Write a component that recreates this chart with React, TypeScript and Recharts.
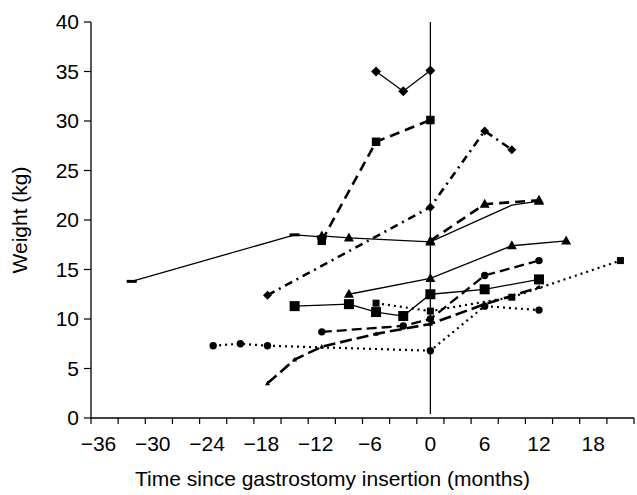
import React from 'react';
import { LineChart, Line, XAxis, YAxis, ReferenceLine, Label } from 'recharts';

const FONT = '"Liberation Sans", Arial, Helvetica, sans-serif';
const FS = 21;

// axis ticks
const xTickMarks = [-37.5, -34.5, -31.5, -28.5, -25.5, -22.5, -19.5, -16.5, -13.5, -10.5, -7.5, -4.5, -1.5, 1.5, 4.5, 7.5, 10.5, 13.5, 16.5, 19.5, 22.5];
const xTickLabels = [-36, -30, -24, -18, -12, -6, 0, 6, 12, 18];
const yTicks = [0, 5, 10, 15, 20, 25, 30, 35, 40];

// series (months since insertion, weight kg)
const aMonths = [-6, -3, 0];
const aWeight = [35, 33, 35.1];
const bMonths = [-12, -6, 0];
const bWeight = [17.9, 27.9, 30.1];
const cMonths = [-33, -15, -12];
const cWeight = [13.8, 18.5, 18.3];
const dMonths = [-12, -9, 0, 9, 12];
const dWeight = [18.4, 18.2, 17.8, 21.5, 21.9];
const dUnmarked = [9];
const eMonths = [0, 6, 12];
const eWeight = [17.9, 21.6, 22.0];
const fMonths = [-18, 0, 6, 9];
const fWeight = [12.4, 21.3, 29.0, 27.1];
const gMonths = [-9, 0, 9, 15];
const gWeight = [12.5, 14.1, 17.4, 17.9];
const hMonths = [-15, -9, -6, -3, 0, 6, 12];
const hWeight = [11.3, 11.5, 10.7, 10.3, 12.5, 13.0, 14.0];
const iMonths = [-6, 0, 9, 21];
const iWeight = [11.6, 10.8, 12.2, 15.9];
const jMonths = [-12, -3, 0, 6, 12];
const jWeight = [8.7, 9.3, 10.0, 14.4, 15.9];
const kMonths = [-18, -15, -12, -6, 0, 6, 12];
const kWeight = [3.5, 5.9, 7.2, 8.5, 9.5, 11.5, 13.2];
const lMonths = [-24, -21, -18, 0, 6, 12];
const lWeight = [7.3, 7.5, 7.3, 6.8, 11.3, 10.9];

const toData = (m: number[], w: number[]) => m.map((x, i) => ({ x, y: w[i] }));

const diamond = (r: number) => (p: any) => {
  if (p.cx == null || p.cy == null) return <g key={p.index} />;
  const { cx, cy } = p;
  return <path key={p.index} d={`M${cx},${cy - r}L${cx + r},${cy}L${cx},${cy + r}L${cx - r},${cy}Z`} fill="#000" />;
};
const square = (s: number) => (p: any) => {
  if (p.cx == null || p.cy == null) return <g key={p.index} />;
  return <rect key={p.index} x={p.cx - s / 2} y={p.cy - s / 2} width={s} height={s} fill="#000" />;
};
const triangle = (s: number, skip: number[] = []) => (p: any) => {
  if (p.cx == null || p.cy == null || (p.payload && skip.includes(p.payload.x))) return <g key={p.index} />;
  const { cx, cy } = p;
  const h = s * 0.9;
  return <path key={p.index} d={`M${cx},${cy - h * 0.6}L${cx + s / 2},${cy + h * 0.4}L${cx - s / 2},${cy + h * 0.4}Z`} fill="#000" />;
};
const circle = (r: number) => (p: any) => {
  if (p.cx == null || p.cy == null) return <g key={p.index} />;
  return <circle key={p.index} cx={p.cx} cy={p.cy} r={r} fill="#000" />;
};
const dash = (w: number, h: number) => (p: any) => {
  if (p.cx == null || p.cy == null) return <g key={p.index} />;
  return <rect key={p.index} x={p.cx - w / 2} y={p.cy - h / 2} width={w} height={h} fill="#000" />;
};

const XTick = (props: any) => {
  const { x, y, payload } = props;
  const v = payload.value;
  if (xTickLabels.includes(v)) {
    const digits = String(Math.abs(v));
    const w = digits.length * 0.556 * FS;
    return (
      <g>
        <text x={x} y={y + 33} textAnchor="middle" fontSize={FS} fontFamily={FONT} fill="#000">{digits}</text>
        {v < 0 && (
          <text x={x - w / 2} y={y + 33} textAnchor="end" fontSize={FS} fontFamily={FONT} fill="#000">{'\u2212'}</text>
        )}
      </g>
    );
  }
  return <line x1={x} x2={x} y1={y} y2={y + 6} stroke="#000" strokeWidth={1.2} />;
};

const thin = 1.3;
const thick = 2.6;

export default function App() {
  const xTicks = [...xTickMarks, ...xTickLabels].sort((a, b) => a - b);
  return (
    <div style={{ position: 'absolute', left: 0, top: 0, background: '#fff' }}>
      <LineChart width={637} height={495} margin={{ top: 22, right: 3, left: 0, bottom: 0 }}>
        <XAxis
          dataKey="x"
          type="number"
          domain={[-37.5, 22.5]}
          ticks={xTicks}
          interval={0}
          tickSize={0}
          tickMargin={0}
          tickLine={false}
          tick={XTick}
          axisLine={{ stroke: '#000', strokeWidth: 1.3 }}
          height={77}
          allowDataOverflow
        >
          <Label
            value="Time since gastrostomy insertion (months)"
            position="insideBottom"
            offset={9}
            dx={-30}
            style={{ fontSize: FS, fontFamily: FONT, fill: '#000' }}
          />
        </XAxis>
        <YAxis
          type="number"
          domain={[0, 40]}
          ticks={yTicks}
          interval={0}
          tickSize={7}
          tickMargin={5}
          width={91}
          tick={{ fontSize: FS, fontFamily: FONT, fill: '#000' }}
          tickLine={{ stroke: '#000', strokeWidth: 1.2 }}
          axisLine={{ stroke: '#000', strokeWidth: 1.3 }}
        >
          <Label
            value="Weight (kg)"
            angle={-90}
            position="insideLeft"
            offset={20}
            style={{ fontSize: FS, fontFamily: FONT, fill: '#000', textAnchor: 'middle' }}
          />
        </YAxis>
        <ReferenceLine segment={[{ x: 0, y: 0.4 }, { x: 0, y: 40 }]} stroke="#000" strokeWidth={1.3} />

        <Line data={toData(lMonths, lWeight)} dataKey="y" type="linear" stroke="#000" strokeWidth={2.2} strokeDasharray="2 4" dot={circle(3.7)} activeDot={false} isAnimationActive={false} />
        <Line data={toData(iMonths, iWeight)} dataKey="y" type="linear" stroke="#000" strokeWidth={2.2} strokeDasharray="2 4" dot={square(7)} activeDot={false} isAnimationActive={false} />
        <Line data={toData(kMonths, kWeight)} dataKey="y" type="linear" stroke="#000" strokeWidth={thick} strokeDasharray="12 5" dot={triangle(5)} activeDot={false} isAnimationActive={false} />
        <Line data={toData(jMonths, jWeight)} dataKey="y" type="linear" stroke="#000" strokeWidth={2.3} strokeDasharray="10 5" dot={circle(3.7)} activeDot={false} isAnimationActive={false} />
        <Line data={toData(hMonths, hWeight)} dataKey="y" type="linear" stroke="#000" strokeWidth={thin} dot={square(10)} activeDot={false} isAnimationActive={false} />
        <Line data={toData(gMonths, gWeight)} dataKey="y" type="linear" stroke="#000" strokeWidth={thin} dot={triangle(10)} activeDot={false} isAnimationActive={false} />
        <Line data={toData(fMonths, fWeight)} dataKey="y" type="linear" stroke="#000" strokeWidth={thick} strokeDasharray="8 5 2 5" dot={diamond(4.5)} activeDot={false} isAnimationActive={false} />
        <Line data={toData(eMonths, eWeight)} dataKey="y" type="linear" stroke="#000" strokeWidth={thick} strokeDasharray="10 6" dot={triangle(10)} activeDot={false} isAnimationActive={false} />
        <Line data={toData(cMonths, cWeight)} dataKey="y" type="linear" stroke="#000" strokeWidth={thin} dot={dash(10, 3)} activeDot={false} isAnimationActive={false} />
        <Line data={toData(dMonths, dWeight)} dataKey="y" type="linear" stroke="#000" strokeWidth={thin} dot={triangle(10, dUnmarked)} activeDot={false} isAnimationActive={false} />
        <Line data={toData(bMonths, bWeight)} dataKey="y" type="linear" stroke="#000" strokeWidth={thick} strokeDasharray="10 6" dot={square(8.5)} activeDot={false} isAnimationActive={false} />
        <Line data={toData(aMonths, aWeight)} dataKey="y" type="linear" stroke="#000" strokeWidth={thin} dot={diamond(5)} activeDot={false} isAnimationActive={false} />
      </LineChart>
    </div>
  );
}
